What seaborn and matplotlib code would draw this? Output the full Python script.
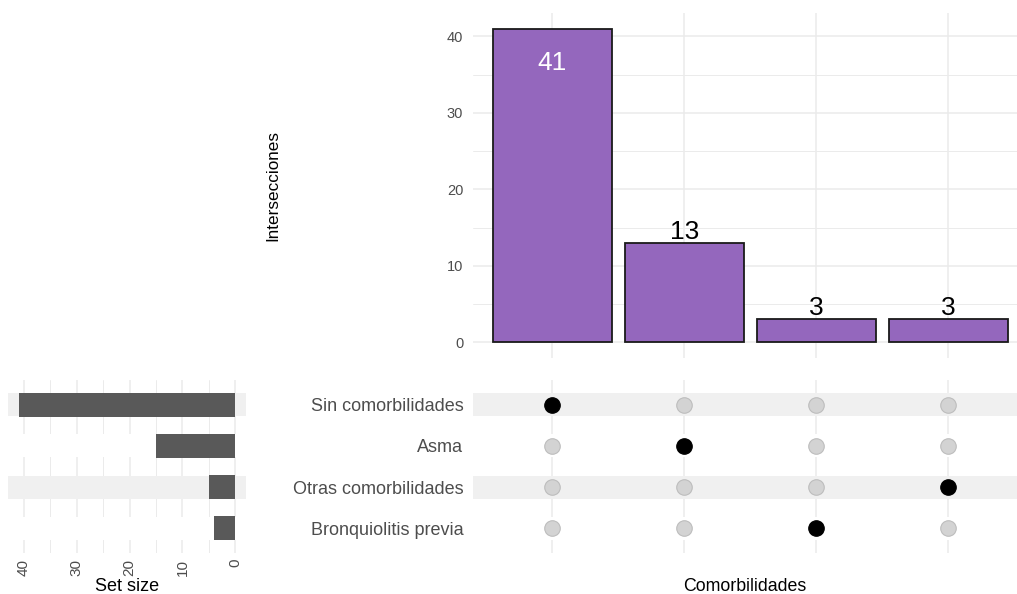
import numpy as np
import pandas as pd
import matplotlib
matplotlib.use("Agg")
import matplotlib.pyplot as plt
from matplotlib.ticker import MultipleLocator
import seaborn as sns

# Intersections, left to right
intersection_sets = ["Sin comorbilidades", "Asma", "Bronquiolitis previa", "Otras comorbilidades"]
intersection_counts = [41, 13, 3, 3]

# Sets, top to bottom in the matrix
set_names = ["Sin comorbilidades", "Asma", "Otras comorbilidades", "Bronquiolitis previa"]
set_sizes = [41, 15, 5, 4]

sns.set_style("white")
plt.rcParams["font.family"] = ["Liberation Sans", "DejaVu Sans"]

bar_color = "#9467bd"
grid_color = "#ebebeb"
stripe_color = "#f0f0f0"
tick_color = "#4d4d4d"

df_int = pd.DataFrame({"col": range(len(intersection_counts)), "n": intersection_counts})
df_set = pd.DataFrame({"set": set_names, "size": set_sizes})
rows = []
for i, s_int in enumerate(intersection_sets):
    for j, s in enumerate(set_names):
        rows.append({"col": i, "row": j, "filled": s == s_int})
df_mat = pd.DataFrame(rows)

W, H = 1017, 594
fig = plt.figure(figsize=(W / 100, H / 100), dpi=100)


def box(x0, y0, x1, y1):
    return [x0 / W, 1 - y1 / H, (x1 - x0) / W, (y1 - y0) / H]


ax_bar = fig.add_axes(box(473, 13, 1017, 358))
ax_mat = fig.add_axes(box(473, 380, 1017, 553))
ax_set = fig.add_axes(box(8, 380, 246, 553))

xlim = (-0.6, 3.52)
title_y = -(591 - 553) / 173  # baseline of the bottom titles

# Intersection sizes
sns.barplot(data=df_int, x="col", y="n", color=bar_color, saturation=1,
            edgecolor="#1a1a1a", linewidth=1.3, width=0.9, ax=ax_bar, zorder=2)
ax_bar.set_axisbelow(True)
ax_bar.set_xlim(*xlim)
ax_bar.set_ylim(-2.05, 43.05)
ax_bar.yaxis.set_major_locator(MultipleLocator(10))
ax_bar.yaxis.set_minor_locator(MultipleLocator(5))
ax_bar.grid(which="major", color=grid_color, lw=1.1)
ax_bar.grid(which="minor", axis="y", color=grid_color, lw=0.7)
ax_bar.set_xticks(range(len(intersection_counts)))
ax_bar.set_xticklabels([])
ax_bar.tick_params(axis="both", which="both", length=0, labelsize=10.5,
                   labelcolor=tick_color, pad=7)
ax_bar.set_xlabel("")
ax_bar.set_ylabel("Intersecciones", fontsize=12.3, color="black")
ax_bar.yaxis.set_label_coords(-0.355, 0.5)
for sp in ax_bar.spines.values():
    sp.set_visible(False)
top = max(intersection_counts)
for i, v in enumerate(intersection_counts):
    if v == top:
        ax_bar.annotate(str(v), (i, v), xytext=(0, -25), textcoords="offset points",
                        ha="center", va="center", fontsize=19, color="white")
    else:
        ax_bar.annotate(str(v), (i, v), xytext=(0, 8), textcoords="offset points",
                        ha="center", va="center", fontsize=19, color="black")

# Matrix
ax_mat.set_axisbelow(True)
ax_mat.grid(axis="x", color=grid_color, lw=1.1)
for j in range(len(set_names)):
    ax_mat.axhspan(j - 0.28, j + 0.28, color=stripe_color if j % 2 == 0 else "white",
                   lw=0, zorder=1)
sns.scatterplot(data=df_mat[~df_mat["filled"]], x="col", y="row", color="#d3d3d3",
                edgecolor="#bdbdbd", linewidth=0.8, s=125, ax=ax_mat, zorder=3)
sns.scatterplot(data=df_mat[df_mat["filled"]], x="col", y="row", color="black",
                edgecolor="black", linewidth=0.8, s=125, ax=ax_mat, zorder=3)
ax_mat.set_xlim(*xlim)
ax_mat.set_ylim(len(set_names) - 0.4, -0.6)
ax_mat.set_yticks(range(len(set_names)))
ax_mat.set_yticklabels(set_names)
ax_mat.set_xticks(range(len(intersection_counts)))
ax_mat.set_xticklabels([])
ax_mat.tick_params(axis="both", length=0, labelsize=13, labelcolor=tick_color, pad=7)
ax_mat.set_ylabel("")
ax_mat.set_xlabel("Comorbilidades", fontsize=12.8, color="black")
ax_mat.xaxis.set_label_coords(0.5, title_y)
ax_mat.xaxis.label.set_va("baseline")
for sp in ax_mat.spines.values():
    sp.set_visible(False)

# Set sizes
sns.barplot(data=df_set, x="size", y="set", order=set_names, orient="h",
            color="#595959", saturation=1, width=0.58, linewidth=0, ax=ax_set, zorder=2)
ax_set.set_axisbelow(True)
for j in range(len(set_names)):
    ax_set.axhspan(j - 0.28, j + 0.28, color=stripe_color if j % 2 == 0 else "white",
                   lw=0, zorder=1)
ax_set.set_xlim(43.05, -2.05)
ax_set.set_ylim(len(set_names) - 0.4, -0.6)
ax_set.xaxis.set_major_locator(MultipleLocator(10))
ax_set.xaxis.set_minor_locator(MultipleLocator(5))
ax_set.grid(which="major", axis="x", color=grid_color, lw=1.1)
ax_set.grid(which="minor", axis="x", color=grid_color, lw=0.7)
ax_set.grid(axis="y", visible=False)
ax_set.set_yticklabels([])
ax_set.tick_params(axis="both", which="both", length=0, labelsize=11,
                   labelcolor=tick_color, pad=4)
ax_set.tick_params(axis="x", labelrotation=90)
ax_set.set_ylabel("")
ax_set.set_xlabel("Set size", fontsize=13, color="black")
ax_set.xaxis.set_label_coords(0.5, title_y)
ax_set.xaxis.label.set_va("baseline")
for sp in ax_set.spines.values():
    sp.set_visible(False)

fig.savefig("out.png", dpi=100)
